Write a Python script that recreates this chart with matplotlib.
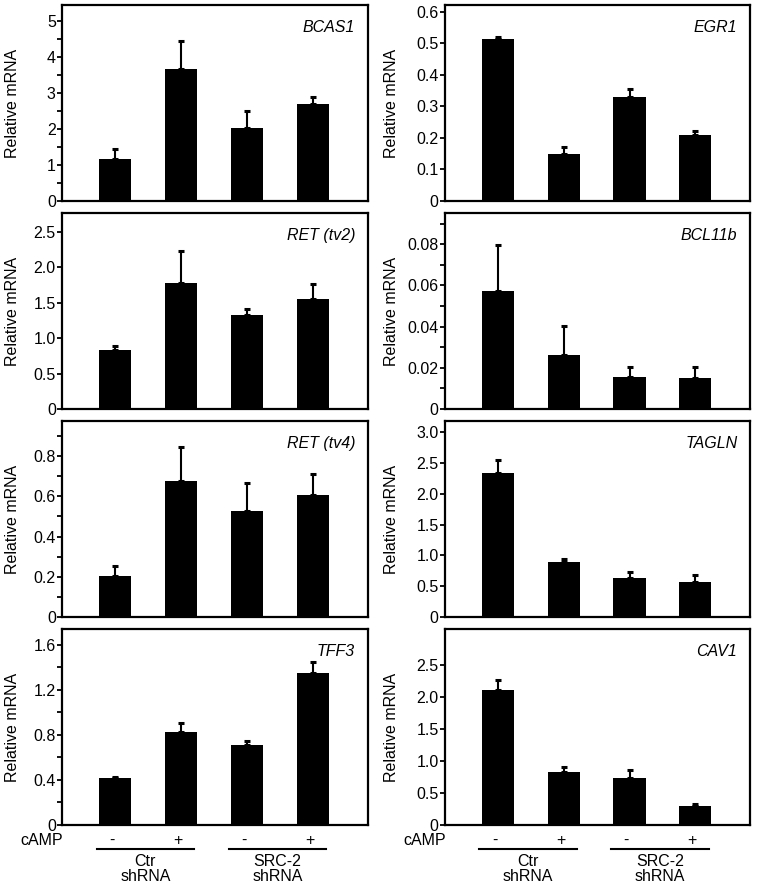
import matplotlib
matplotlib.use("Agg")
import matplotlib.pyplot as plt
import numpy as np
from matplotlib.ticker import MultipleLocator, FuncFormatter

plt.rcParams['font.family'] = ['Liberation Sans', 'DejaVu Sans']

# valores (barras: Ctr -, Ctr +, SRC-2 -, SRC-2 +)
genes = ["BCAS1", "EGR1", "RET (tv2)", "BCL11b", "RET (tv4)", "TAGLN", "TFF3", "CAV1"]

bcas1 = [1.16, 3.65, 2.02, 2.68]
bcas1_err = [0.29, 0.78, 0.47, 0.22]
egr1 = [0.515, 0.15, 0.33, 0.21]
egr1_err = [0.004, 0.02, 0.026, 0.012]
ret_tv2 = [0.83, 1.78, 1.335, 1.55]
ret_tv2_err = [0.06, 0.46, 0.075, 0.22]
bcl11b = [0.0575, 0.0264, 0.0156, 0.0149]
bcl11b_err = [0.0222, 0.0138, 0.0046, 0.0053]
ret_tv4 = [0.204, 0.676, 0.529, 0.608]
ret_tv4_err = [0.048, 0.172, 0.137, 0.104]
tagln = [2.344, 0.898, 0.634, 0.565]
tagln_err = [0.196, 0.048, 0.096, 0.112]
tff3 = [0.418, 0.824, 0.713, 1.352]
tff3_err = [0.009, 0.08, 0.033, 0.093]
cav1 = [2.116, 0.837, 0.73, 0.29]
cav1_err = [0.154, 0.079, 0.133, 0.036]

camp = ["-", "+", "-", "+"]
grupos = ["Ctr\nshRNA", "SRC-2\nshRNA"]

# (valores, erros, ylim topo, passo maior, ultimo tick, passo menor, casas decimais)
paineis = [
    (bcas1, bcas1_err, 5.44, 1.0, 5.0, 0.5, 0),
    (egr1, egr1_err, 0.622, 0.1, 0.6, None, 1),
    (ret_tv2, ret_tv2_err, 2.77, 0.5, 2.5, None, 1),
    (bcl11b, bcl11b_err, 0.0952, 0.02, 0.08, 0.01, 2),
    (ret_tv4, ret_tv4_err, 0.975, 0.2, 0.8, 0.1, 1),
    (tagln, tagln_err, 3.18, 0.5, 3.0, None, 1),
    (tff3, tff3_err, 1.74, 0.4, 1.6, 0.2, 1),
    (cav1, cav1_err, 3.07, 0.5, 2.5, None, 1),
]

W, H = 757, 888
fig = plt.figure(figsize=(W / 100, H / 100), dpi=100)

col_x = [62, 445]
col_w = [306, 305]
row_top = [5, 213, 421, 629]
row_h = 196
label_right = [20, 399]

x = [1, 2, 3, 4]

for i, (vals, errs, ytop, major, last, minor, dec) in enumerate(paineis):
    r, c = divmod(i, 2)
    ax = fig.add_axes([col_x[c] / W, 1 - (row_top[r] + row_h) / H, col_w[c] / W, row_h / H])
    ax.bar(x, vals, width=0.49, color='black', zorder=2)
    ax.errorbar(x, vals, yerr=[[0] * 4, errs], fmt='none', ecolor='black',
                elinewidth=1.5, capsize=2.5, capthick=2.2, zorder=1)
    ax.set_xlim(0.197, 4.83)
    ax.set_ylim(0, ytop)
    ax.set_yticks(np.arange(0, last + major / 2, major))
    if minor:
        ax.yaxis.set_minor_locator(MultipleLocator(minor))
    ax.yaxis.set_major_formatter(FuncFormatter(
        lambda v, p, d=dec: '0' if abs(v) < 1e-12 else f'{v:.{d}f}'))
    ax.tick_params(axis='y', which='both', direction='out', length=3.5, width=1.3,
                   labelsize=11.5, pad=1)
    ax.tick_params(axis='x', bottom=False, labelbottom=False)
    for s in ax.spines.values():
        s.set_linewidth(1.6)
    ax.set_ylabel('Relative mRNA', fontsize=11.5)
    ax.yaxis.set_label_coords(-(col_x[c] - label_right[c]) / col_w[c], 0.5)
    ax.text(0.958, 0.883, genes[i], transform=ax.transAxes, ha='right', va='center',
            fontsize=11.5, style='italic')

    if r == 3:
        tr = ax.get_xaxis_transform()
        ax.text(0.003, -0.078, 'cAMP', transform=ax.transAxes, ha='right', va='center',
                fontsize=11.5)
        for xi, s in zip(x, camp):
            ax.text(xi - 0.05, -0.078, s, transform=tr, ha='center', va='center',
                    fontsize=11.5, clip_on=False)
        for g, (a, b) in enumerate([(1, 2), (3, 4)]):
            ax.plot([a - 0.28, b + 0.2], [-0.122, -0.122], transform=tr, color='black',
                    lw=1.5, clip_on=False)
            ax.text((a + b) / 2 - 0.04, -0.15, grupos[g], transform=tr, ha='center',
                    va='top', fontsize=11.5, linespacing=1.0)

fig.savefig('out.png', dpi=100)
